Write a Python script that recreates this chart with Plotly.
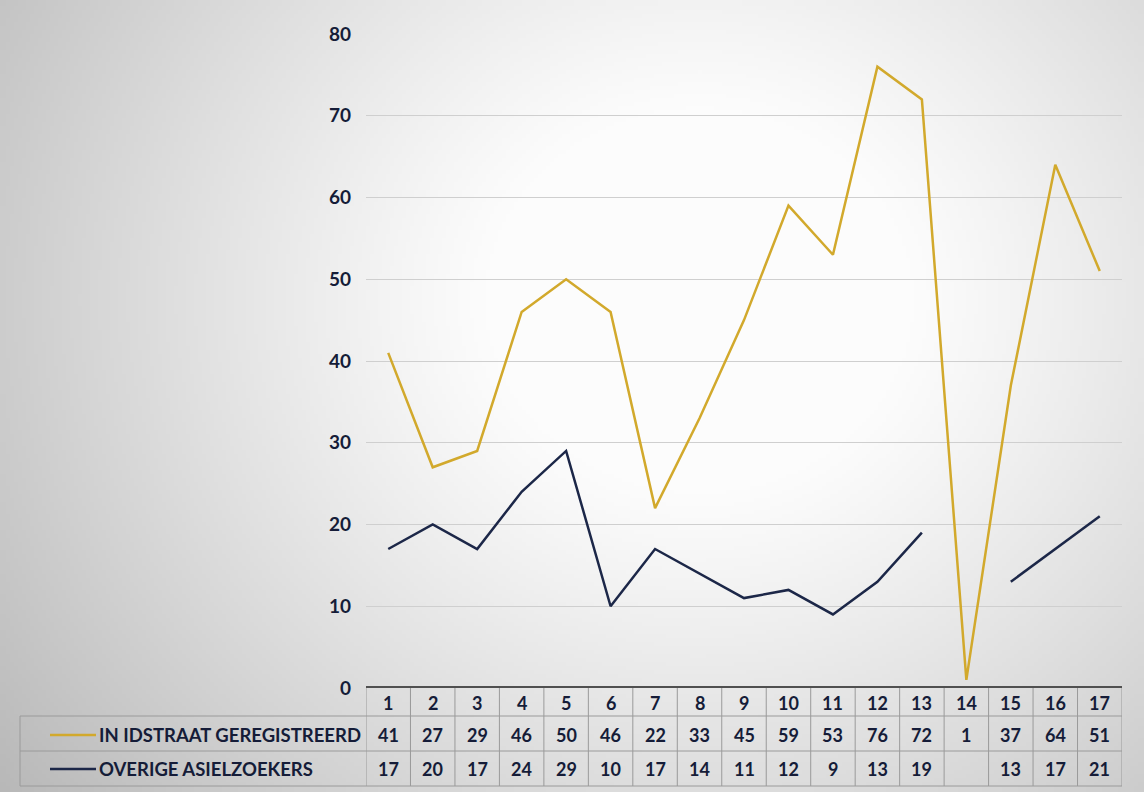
import base64
import struct
import zlib

import numpy as np
import plotly.graph_objects as go

# ---------------- data ----------------
periods = list(range(1, 18))
series_names = ["IN IDSTRAAT GEREGISTREERD", "OVERIGE ASIELZOEKERS"]
idstraat = [41, 27, 29, 46, 50, 46, 22, 33, 45, 59, 53, 76, 72, 1, 37, 64, 51]
overige = [17, 20, 17, 24, 29, 10, 17, 14, 11, 12, 9, 13, 19, None, 13, 17, 21]
y_ticks = [0, 10, 20, 30, 40, 50, 60, 70, 80]

# ---------------- style ----------------
W, H = 1144, 792
ML, MR, MT, MB = 366, 22, 34, 104
PW, PH = W - ML - MR, H - MT - MB
GOLD = "#d2a92c"
NAVY = "#1c2748"
TXT = "#151c38"
FONT = "Lato"


def px_x(p):
    return (p - ML) / PW


def px_y(p):
    return (H - MB - p) / PH


def png_uri(arr):
    h, w, _ = arr.shape
    raw = b"".join(b"\x00" + arr[i].tobytes() for i in range(h))

    def chunk(tag, data):
        c = struct.pack(">I", len(data)) + tag + data
        return c + struct.pack(">I", zlib.crc32(tag + data) & 0xFFFFFFFF)

    png = (b"\x89PNG\r\n\x1a\n" + chunk(b"IHDR", struct.pack(">IIBBBBB", w, h, 8, 2, 0, 0, 0))
           + chunk(b"IDAT", zlib.compress(raw, 9)) + chunk(b"IEND", b""))
    return "data:image/png;base64," + base64.b64encode(png).decode()


# photographic vignette background
gw, gh = 286, 198
gx, gy = np.meshgrid(np.linspace(0, W, gw), np.linspace(0, H, gh))
d = np.sqrt(((gx - 700) / 620) ** 2 + ((gy - 300) / 560) ** 2)
v = 252 - 62 * np.clip(d - 0.35, 0, 1.2) ** 1.1
v = np.clip(v, 0, 255).astype(np.uint8)
bg = np.stack([v, v, v], axis=-1)

fig = go.Figure()
fig.add_trace(go.Scatter(x=periods, y=idstraat, mode="lines", name=series_names[0],
                         line=dict(color=GOLD, width=2.5), connectgaps=False))
fig.add_trace(go.Scatter(x=periods, y=overige, mode="lines", name=series_names[1],
                         line=dict(color=NAVY, width=2.5), connectgaps=False))

shapes = []
annotations = []

# table rows (paper y)
r_top = px_y(688)
r1_bot = px_y(716)
r2_bot = px_y(751)
r3_bot = px_y(786)
r1_c = px_y(703)
r2_c = px_y(735)
r3_c = px_y(769)
label_left = px_x(20)
GRID = "#9a9a9a"

# vertical lines of table
for k in range(len(periods) + 1):
    xv = periods[0] - 0.5 + k
    shapes.append(dict(type="line", xref="x", yref="paper", x0=xv, x1=xv, y0=r_top, y1=r3_bot,
                       line=dict(color=GRID, width=1)))
# horizontal lines across data columns
for yy in (r1_bot, r2_bot, r3_bot):
    shapes.append(dict(type="line", xref="paper", yref="paper", x0=label_left, x1=1, y0=yy, y1=yy,
                       line=dict(color=GRID, width=1)))
# label column left border
shapes.append(dict(type="line", xref="paper", yref="paper", x0=label_left, x1=label_left,
                   y0=r1_bot, y1=r3_bot, line=dict(color=GRID, width=1)))
# thick axis line at 0
shapes.append(dict(type="line", xref="paper", yref="y", x0=0, x1=1, y0=0, y1=0,
                   line=dict(color="#505050", width=4)))
# legend swatches
for yc, col in ((r2_c, GOLD), (r3_c, NAVY)):
    shapes.append(dict(type="line", xref="paper", yref="paper", x0=px_x(50), x1=px_x(96),
                       y0=yc, y1=yc, line=dict(color=col, width=2.5)))

tfont = dict(family=FONT, size=18, color=TXT)
for i, p in enumerate(periods):
    annotations.append(dict(x=p, y=r1_c, xref="x", yref="paper", text=f"<b>{p}</b>",
                            showarrow=False, font=tfont, yanchor="middle"))
    annotations.append(dict(x=p, y=r2_c, xref="x", yref="paper", text=f"<b>{idstraat[i]}</b>",
                            showarrow=False, font=tfont, yanchor="middle"))
    if overige[i] is not None:
        annotations.append(dict(x=p, y=r3_c, xref="x", yref="paper", text=f"<b>{overige[i]}</b>",
                                showarrow=False, font=tfont, yanchor="middle"))
for name, yc in zip(series_names, (r2_c, r3_c)):
    annotations.append(dict(x=px_x(97), y=yc, xref="paper", yref="paper", xanchor="left",
                            yanchor="middle", text=f"<b>{name}</b>",
                            showarrow=False, font=dict(family=FONT, size=18.5, color=TXT)))

fig.update_layout(
    width=W, height=H,
    margin=dict(l=ML, r=MR, t=MT, b=MB),
    paper_bgcolor="#e4e4e4",
    plot_bgcolor="rgba(0,0,0,0)",
    showlegend=False,
    shapes=shapes,
    annotations=annotations,
    images=[dict(source=png_uri(bg), xref="paper", yref="paper", x=px_x(0), y=px_y(0),
                 sizex=W / PW, sizey=H / PH, sizing="stretch", layer="below",
                 xanchor="left", yanchor="top")],
    xaxis=dict(range=[periods[0] - 0.5, periods[-1] + 0.5], showticklabels=False,
               showgrid=False, zeroline=False, showline=False, fixedrange=True),
    yaxis=dict(range=[0, 80], tickvals=y_ticks, ticktext=[f"<b>{t}</b>" for t in y_ticks],
               tickfont=dict(family=FONT, size=19, color=TXT), ticklabelstandoff=14,
               showgrid=True, gridcolor="#cfcfcf", gridwidth=1, zeroline=False,
               showline=False, ticks=""),
)

fig.write_html("out.html", config={"displayModeBar": False},
               post_script="document.body.style.margin='0';"
                           "document.body.style.overflow='hidden';")
